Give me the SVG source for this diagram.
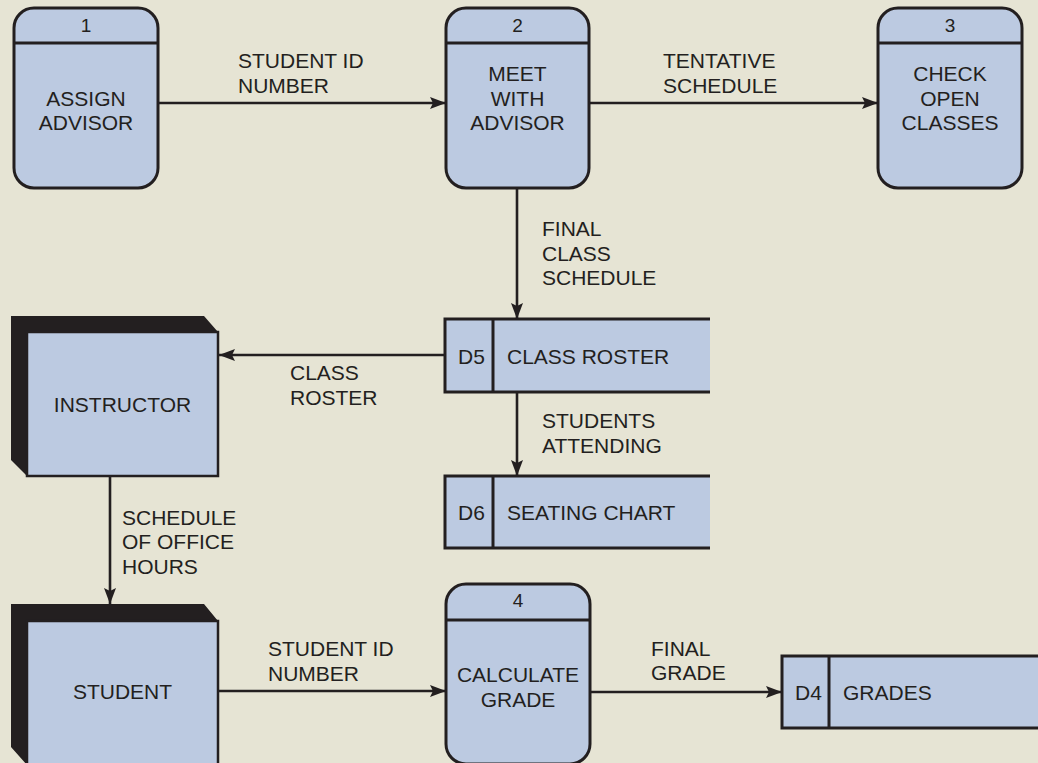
<svg xmlns="http://www.w3.org/2000/svg" width="1038" height="763" viewBox="0 0 1038 763">
<style>
text{font-family:"Liberation Sans",Arial,sans-serif;font-size:21px;fill:#231f20}
.c{text-anchor:middle}
.num{font-size:19px;text-anchor:middle}
.box{fill:#bccae1;stroke:#231f20;stroke-width:3}
.ln{fill:none;stroke:#231f20;stroke-width:3}
.sh{fill:#231f20}
.flow{fill:none;stroke:#231f20;stroke-width:2.6}
</style>
<defs>
<marker id="ah" markerUnits="userSpaceOnUse" markerWidth="18" markerHeight="14" refX="16" refY="6" orient="auto">
<path d="M0,0 L16,6 L0,12 L3,6 z" fill="#231f20"/>
</marker>
</defs>
<rect width="1038" height="763" fill="#e6e4d4"/>

<g id="p1">
<rect class="box" x="14" y="8" width="144" height="180" rx="20"/>
<line class="ln" x1="14" y1="43" x2="158" y2="43"/>
<text class="num" x="86" y="32">1</text>
<text class="c" x="86" y="106">ASSIGN</text>
<text class="c" x="86" y="130">ADVISOR</text>
</g>
<g id="p2">
<rect class="box" x="446" y="8" width="143" height="180" rx="20"/>
<line class="ln" x1="446" y1="43" x2="589" y2="43"/>
<text class="num" x="517.5" y="32">2</text>
<text class="c" x="517.5" y="81">MEET</text>
<text class="c" x="517.5" y="106">WITH</text>
<text class="c" x="517.5" y="130">ADVISOR</text>
</g>
<g id="p3">
<rect class="box" x="878" y="8" width="144" height="180" rx="20"/>
<line class="ln" x1="878" y1="43" x2="1022" y2="43"/>
<text class="num" x="950" y="32">3</text>
<text class="c" x="950" y="81">CHECK</text>
<text class="c" x="950" y="106">OPEN</text>
<text class="c" x="950" y="130">CLASSES</text>
</g>
<g id="p4">
<rect class="box" x="446" y="584" width="144" height="180" rx="20"/>
<line class="ln" x1="446" y1="620" x2="590" y2="620"/>
<text class="num" x="518" y="607">4</text>
<text class="c" x="518" y="682">CALCULATE</text>
<text class="c" x="518" y="707">GRADE</text>
</g>

<g id="instructor">
<polygon class="sh" points="11,316 204,316 218,332 27,332 27,476 11,460"/>
<rect class="box" x="27" y="332" width="191" height="144" style="stroke-width:2.5"/>
<text class="c" x="122.5" y="412">INSTRUCTOR</text>
</g>
<g id="student">
<polygon class="sh" points="11,604 204,604 218,621 27,621 27,765 11,747"/>
<rect class="box" x="27" y="621" width="191" height="146" style="stroke-width:2.5"/>
<text class="c" x="122.5" y="699">STUDENT</text>
</g>

<g id="d5">
<path d="M710,319 H445 V392 H710" class="box"/>
<line class="ln" x1="493" y1="319" x2="493" y2="392"/>
<text x="458" y="364">D5</text>
<text x="507" y="364">CLASS ROSTER</text>
</g>
<g id="d6">
<path d="M710,476 H445 V548 H710" class="box"/>
<line class="ln" x1="493" y1="476" x2="493" y2="548"/>
<text x="458" y="520">D6</text>
<text x="507" y="520">SEATING CHART</text>
</g>
<g id="d4">
<path d="M1040,656 H782 V728 H1040" class="box"/>
<line class="ln" x1="829" y1="656" x2="829" y2="728"/>
<text x="795" y="700">D4</text>
<text x="843" y="700">GRADES</text>
</g>

<g id="connectors">
<line class="flow" x1="158" y1="103" x2="446" y2="103" marker-end="url(#ah)"/>
<line class="flow" x1="589" y1="103" x2="878" y2="103" marker-end="url(#ah)"/>
<line class="flow" x1="517" y1="188" x2="517" y2="319" marker-end="url(#ah)"/>
<line class="flow" x1="445" y1="355" x2="219" y2="355" marker-end="url(#ah)"/>
<line class="flow" x1="517" y1="392" x2="517" y2="476" marker-end="url(#ah)"/>
<line class="flow" x1="110" y1="476" x2="110" y2="604" marker-end="url(#ah)"/>
<line class="flow" x1="218" y1="691" x2="446" y2="691" marker-end="url(#ah)"/>
<line class="flow" x1="590" y1="692" x2="782" y2="692" marker-end="url(#ah)"/>
<text x="238" y="68">STUDENT ID</text>
<text x="238" y="93">NUMBER</text>
<text x="663" y="68">TENTATIVE</text>
<text x="663" y="93">SCHEDULE</text>
<text x="542" y="236">FINAL</text>
<text x="542" y="261">CLASS</text>
<text x="542" y="285">SCHEDULE</text>
<text x="290" y="380">CLASS</text>
<text x="290" y="405">ROSTER</text>
<text x="542" y="428">STUDENTS</text>
<text x="542" y="453">ATTENDING</text>
<text x="122" y="525">SCHEDULE</text>
<text x="122" y="549">OF OFFICE</text>
<text x="122" y="574">HOURS</text>
<text x="268" y="656">STUDENT ID</text>
<text x="268" y="681">NUMBER</text>
<text x="651" y="656">FINAL</text>
<text x="651" y="680">GRADE</text>
</g>
</svg>
